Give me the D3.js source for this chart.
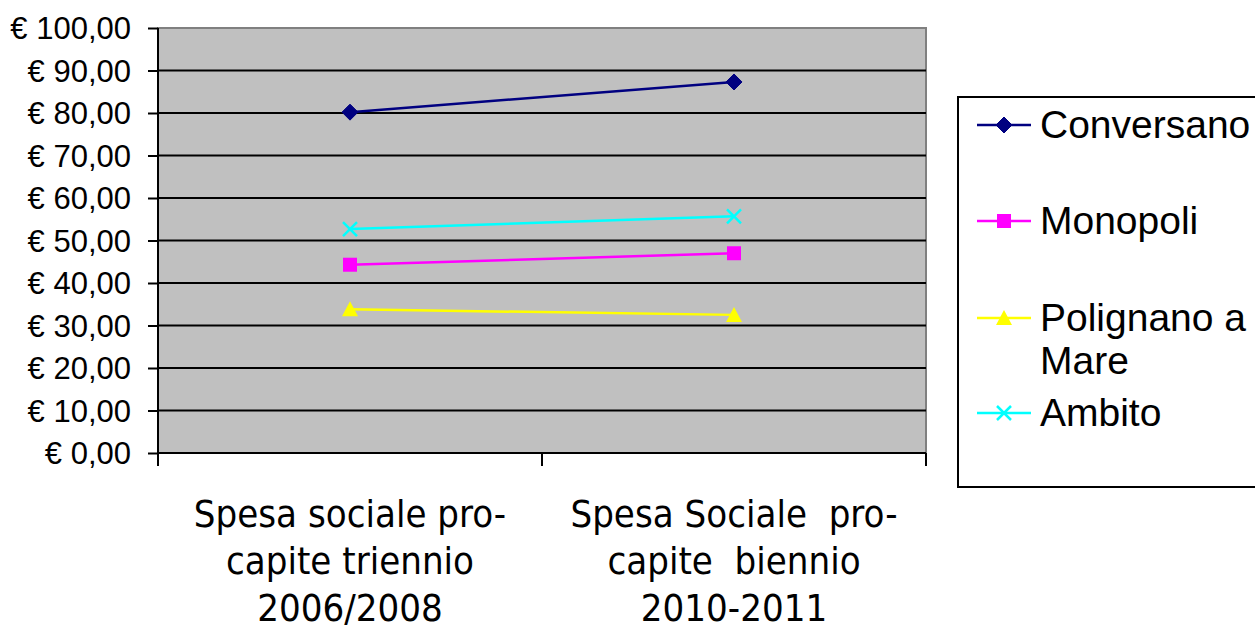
<!DOCTYPE html>
<html><head><meta charset="utf-8">
<script src="https://cdn.jsdelivr.net/npm/d3@7/dist/d3.min.js"></script>
<style>body{margin:0;background:#fff;overflow:hidden}</style>
</head><body>
<svg id="c" width="1255" height="631"></svg>
<script>
const categories = [["Spesa sociale pro-","capite triennio","2006/2008"],["Spesa Sociale  pro-","capite  biennio","2010-2011"]];
const seriesNames = ["Conversano","Monopoli","Polignano a Mare","Ambito"];
const conversano = [80.2, 87.3];
const monopoli = [44.3, 47.0];
const polignano = [33.8, 32.5];
const ambito = [52.7, 55.7];
const yTicks = [0,10,20,30,40,50,60,70,80,90,100];
const colors = ["#000080","#FF00FF","#FFFF00","#00FFFF"];
const symbols = ["diamond","square","triangle","x"];
const legendLines = [["Conversano"],["Monopoli"],["Polignano a","Mare"],["Ambito"]];

const series = [conversano, monopoli, polignano, ambito];
const svg = d3.select("#c");
const L=158, R=926, T=28, B=453;
const x = d3.scaleBand().domain([0,1]).range([L,R]);
const y = d3.scaleLinear().domain([0,100]).range([B,T]);

svg.append("rect").attr("x",L).attr("y",T).attr("width",R-L).attr("height",B-T)
  .attr("fill","#C0C0C0").attr("stroke","#808080").attr("stroke-width",2);

// gridlines
svg.append("g").selectAll("line").data(yTicks.filter(d=>d>0&&d<100)).join("line")
  .attr("x1",L).attr("x2",R).attr("y1",d=>y(d)).attr("y2",d=>y(d))
  .attr("stroke","#000").attr("stroke-width",2);

// y axis
const ya = svg.append("g").attr("transform",`translate(${L},0)`)
  .call(d3.axisLeft(y).tickValues(yTicks).tickSize(10).tickPadding(17)
    .tickFormat(d=>"€ "+d3.format(".2f")(d).replace(".",",")));
ya.attr("font-size",null).attr("font-family",null);
ya.select(".domain").attr("stroke","#000").attr("stroke-width",2).attr("d",`M0,${T}V${B}`);
ya.selectAll(".tick line").attr("stroke","#000").attr("stroke-width",2);
ya.selectAll(".tick text").style("font-family","Liberation Sans, Arial, sans-serif").style("font-size","31px").attr("fill","#000").attr("dy","0.35em");

// x axis
const xa = svg.append("g").attr("transform",`translate(0,${B})`);
xa.append("line").attr("x1",L).attr("x2",R).attr("stroke","#000").attr("stroke-width",2);
const xt = [L, L+x.bandwidth(), R];
xa.selectAll("line.t").data(xt).join("line").attr("class","t")
  .attr("x1",d=>d).attr("x2",d=>d).attr("y1",0).attr("y2",13).attr("stroke","#000").attr("stroke-width",2);
categories.forEach((lines,i)=>{
  const t = svg.append("text").attr("text-anchor","middle")
    .style("font-family","DejaVu Sans Condensed, DejaVu Sans, sans-serif").style("font-stretch","condensed")
    .style("font-size","38px").attr("fill","#000");
  lines.forEach((ln,j)=>t.append("tspan").attr("x",x(i)+x.bandwidth()/2).attr("y",527+j*47).attr("xml:space","preserve").text(ln));
});

function sym(g, type, color, cx, cy){
  if(type==="diamond"){
    g.append("path").attr("d",`M${cx},${cy-8}L${cx+8},${cy}L${cx},${cy+8}L${cx-8},${cy}Z`).attr("fill",color).attr("stroke",color);
  } else if(type==="square"){
    g.append("rect").attr("x",cx-7).attr("y",cy-7).attr("width",14).attr("height",14).attr("fill",color);
  } else if(type==="triangle"){
    g.append("path").attr("d",`M${cx},${cy-8}L${cx+8},${cy+7}L${cx-8},${cy+7}Z`).attr("fill",color);
  } else {
    g.append("path").attr("d",`M${cx-7},${cy-7}L${cx+7},${cy+7}M${cx+7},${cy-7}L${cx-7},${cy+7}`).attr("stroke",color).attr("stroke-width",2.5).attr("fill","none");
  }
}

const line = d3.line().x((d,i)=>x(i)+x.bandwidth()/2).y(d=>y(d));
series.forEach((s,k)=>{
  const g = svg.append("g");
  g.append("path").attr("d",line(s)).attr("fill","none").attr("stroke",colors[k]).attr("stroke-width",2.5);
  s.forEach((v,i)=>sym(g, symbols[k], colors[k], x(i)+x.bandwidth()/2, y(v)));
});

// legend
svg.append("rect").attr("x",958).attr("y",97).attr("width",310).attr("height",390)
  .attr("fill","#fff").attr("stroke","#000").attr("stroke-width",2);
const ly = [125, 221, 318, 413];
legendLines.forEach((lines,k)=>{
  const g = svg.append("g");
  g.append("line").attr("x1",977).attr("x2",1031).attr("y1",ly[k]).attr("y2",ly[k]).attr("stroke",colors[k]).attr("stroke-width",2.5);
  sym(g, symbols[k], colors[k], 1004, ly[k]);
  const t = g.append("text").style("font-family","Liberation Sans, Arial, sans-serif").style("font-size","39px").attr("fill","#000");
  lines.forEach((ln,j)=>t.append("tspan").attr("x",1040).attr("y",ly[k]+13+j*43).text(ln));
});
</script>
</body></html>
